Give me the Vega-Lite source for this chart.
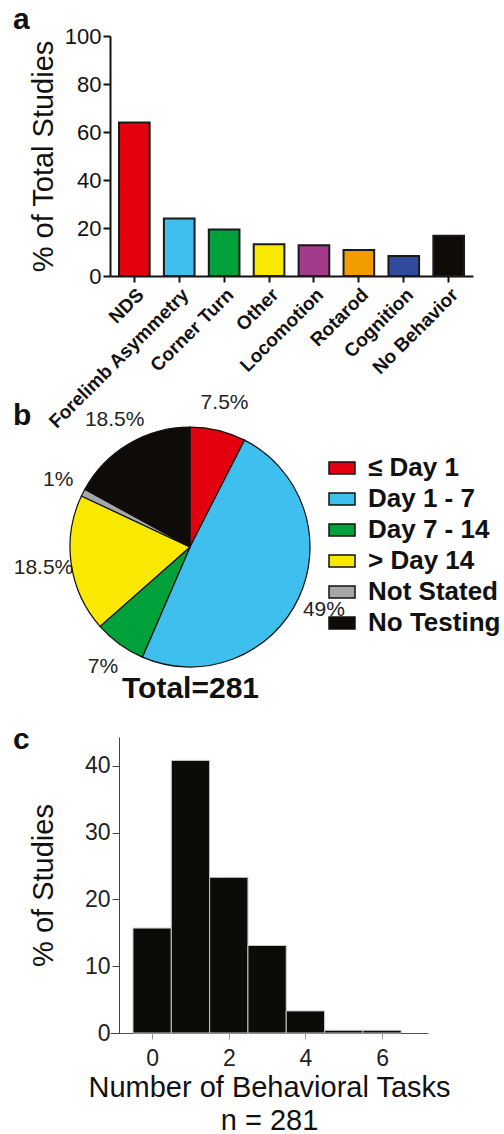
{
  "$schema": "https://vega.github.io/schema/vega-lite/v6.json",
  "autosize": {"type": "none"},
  "padding": {"left": 110, "top": 36, "right": 394, "bottom": 1098},
  "background": "white",
  "config": {
    "font": "Liberation Sans",
    "view": {"stroke": null},
    "axis": {"grid": false}
  },
  "datasets": {
    "tasks": [
      {"task": "NDS", "pct": 64.0},
      {"task": "Forelimb Asymmetry", "pct": 24.0},
      {"task": "Corner Turn", "pct": 19.4},
      {"task": "Other", "pct": 13.2},
      {"task": "Locomotion", "pct": 12.8},
      {"task": "Rotarod", "pct": 10.8},
      {"task": "Cognition", "pct": 8.3},
      {"task": "No Behavior", "pct": 16.8}
    ],
    "timing": [
      {"idx": 1, "group": "≤ Day 1", "share": 7.5, "label": "7.5%"},
      {"idx": 2, "group": "Day 1 - 7", "share": 49, "label": "49%"},
      {"idx": 3, "group": "Day 7 - 14", "share": 7, "label": "7%"},
      {"idx": 4, "group": "> Day 14", "share": 18.5, "label": "18.5%"},
      {"idx": 5, "group": "Not Stated", "share": 1, "label": "1%"},
      {"idx": 6, "group": "No Testing", "share": 17, "label": "18.5%"}
    ],
    "histogram": [
      {"from": -0.5, "to": 0.5, "pct": 15.7},
      {"from": 0.5, "to": 1.5, "pct": 40.8},
      {"from": 1.5, "to": 2.5, "pct": 23.3},
      {"from": 2.5, "to": 3.5, "pct": 13.1},
      {"from": 3.5, "to": 4.5, "pct": 3.3},
      {"from": 4.5, "to": 5.5, "pct": 0.4},
      {"from": 5.5, "to": 6.5, "pct": 0.4}
    ]
  },
  "spacing": 178,
  "bounds": "flush",
  "resolve": {"scale": {"x": "independent", "y": "independent", "color": "independent", "theta": "independent"}},
  "vconcat": [
    {
      "title": {"text": "a", "anchor": "start", "frame": "group", "dx": -97, "offset": -10, "fontSize": 30, "fontWeight": "bold", "color": "#111"},
      "width": 363,
      "height": 240,
      "data": {"name": "tasks"},
      "mark": {"type": "bar", "stroke": "#1a1a1a", "strokeWidth": 2},
      "encoding": {
        "x": {
          "field": "task", "type": "nominal", "sort": null,
          "scale": {"paddingInner": 0.317, "paddingOuter": 0.2},
          "axis": {"title": null, "labelAngle": -45, "labelFontSize": 19, "labelFontWeight": "bold", "labelColor": "#111", "labelLimit": 400, "domainColor": "#111", "domainWidth": 2, "tickColor": "#111", "tickWidth": 2, "tickSize": 6, "labelPadding": 3}
        },
        "y": {
          "field": "pct", "type": "quantitative",
          "scale": {"domain": [0, 100]},
          "axis": {"title": "% of Total Studies", "titleFontSize": 29, "titleFontWeight": "normal", "titleColor": "#111", "titlePadding": 6, "values": [0, 20, 40, 60, 80, 100], "labelFontSize": 22, "labelColor": "#111", "domainColor": "#111", "domainWidth": 2, "tickColor": "#111", "tickWidth": 2, "tickSize": 7, "labelPadding": 2}
        },
        "color": {
          "field": "task", "type": "nominal",
          "scale": {
            "domain": ["NDS", "Forelimb Asymmetry", "Corner Turn", "Other", "Locomotion", "Rotarod", "Cognition", "No Behavior"],
            "range": ["#e3000f", "#3ebfee", "#00a13a", "#f9e800", "#a33b8c", "#f39c00", "#304b9c", "#0e0b08"]
          },
          "legend": null
        }
      }
    },
    {
      "title": {"text": "b", "anchor": "start", "frame": "group", "dx": -97, "offset": -39, "fontSize": 30, "fontWeight": "bold", "color": "#111"},
      "width": 160,
      "height": 105,
      "data": {"name": "timing"},
      "encoding": {
        "theta": {"field": "share", "type": "quantitative", "stack": true},
        "order": {"field": "idx", "type": "quantitative"},
        "y": {"datum": 0.114, "type": "quantitative", "scale": {"domain": [0, 1]}, "axis": null}
      },
      "layer": [
        {
          "mark": {"type": "arc", "outerRadius": 120, "stroke": "#111", "strokeWidth": 1.2},
          "encoding": {
            "x": {"datum": 0.5, "type": "quantitative", "scale": {"domain": [0, 1]},
              "axis": {"title": "Total=281", "domain": false, "ticks": false, "labels": false, "titleFontSize": 30, "titleFontWeight": "bold", "titleColor": "#111", "titlePadding": 114}},
            "color": {
              "field": "group", "type": "nominal",
              "scale": {
                "domain": ["≤ Day 1", "Day 1 - 7", "Day 7 - 14", "> Day 14", "Not Stated", "No Testing"],
                "range": ["#e3000f", "#3ebfee", "#00a13a", "#f9e800", "#a7a7a9", "#0e0b08"]
              },
              "legend": {"title": null, "orient": "right", "offset": 58, "padding": 0, "symbolType": "M-1,-0.46H1V0.46H-1Z", "symbolSize": 676, "symbolStrokeColor": "#111", "symbolStrokeWidth": 1.5, "labelFontSize": 26, "labelFontWeight": "bold", "labelColor": "#111", "labelOffset": 12, "rowPadding": 4, "labelLimit": 300}
            }
          }
        },
        {
          "mark": {"type": "text", "radius": 148, "fontSize": 21, "color": "#222"},
          "encoding": {"text": {"field": "label", "type": "nominal"}}
        }
      ]
    },
    {
      "title": {"text": "c", "anchor": "start", "frame": "group", "dx": -97, "offset": -18, "fontSize": 30, "fontWeight": "bold", "color": "#111"},
      "width": 318,
      "height": 296,
      "data": {"name": "histogram"},
      "mark": {"type": "bar", "fill": "#0d0b08", "stroke": "#c8c8c8", "strokeWidth": 1},
      "encoding": {
        "x": {
          "field": "from", "type": "quantitative",
          "scale": {"domain": [-1.1, 7.2], "nice": false, "zero": false},
          "axis": {"title": ["Number of Behavioral Tasks", "n = 281"], "titleFontSize": 29, "titleFontWeight": "normal", "titleLineHeight": 33, "titleColor": "#111", "titlePadding": 3, "values": [0, 2, 4, 6], "format": "d", "labelFontSize": 23, "labelColor": "#222", "labelPadding": 8, "tickColor": "#999", "tickSize": 6, "domainColor": "#555", "domainWidth": 1}
        },
        "x2": {"field": "to"},
        "y": {
          "field": "pct", "type": "quantitative",
          "scale": {"domain": [0, 44.3], "nice": false},
          "axis": {"title": "% of Studies", "titleFontSize": 29, "titleFontWeight": "normal", "titleColor": "#111", "titlePadding": 26, "values": [0, 10, 20, 30, 40], "labelFontSize": 23, "labelColor": "#222", "labelPadding": 2, "tickColor": "#444", "tickSize": 7, "domainColor": "#444", "offset": -9}
        },
        "y2": {"datum": 0}
      }
    }
  ]
}
